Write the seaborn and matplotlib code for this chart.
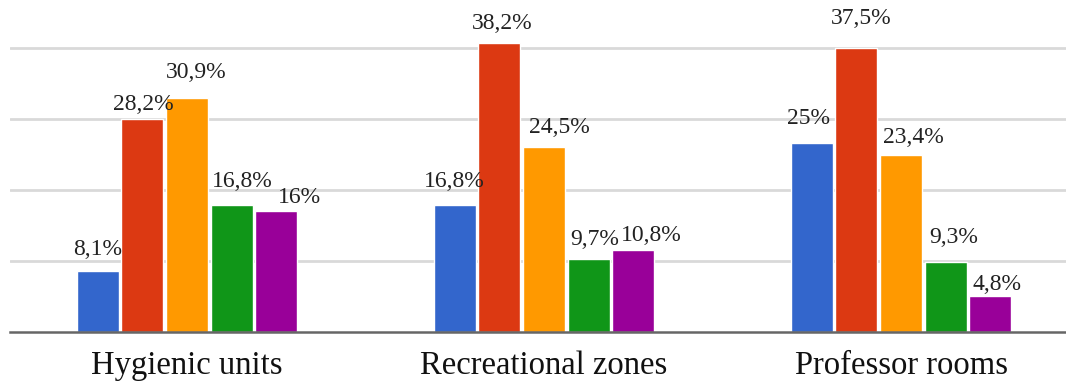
import pandas as pd
import matplotlib
matplotlib.use("Agg")
import matplotlib.pyplot as plt
import seaborn as sns

# données (en %)
categories = ["Hygienic units", "Recreational zones", "Professor rooms"]
series = ["Série 1", "Série 2", "Série 3", "Série 4", "Série 5"]
serie_1 = [8.1, 16.8, 25]
serie_2 = [28.2, 38.2, 37.5]
serie_3 = [30.9, 24.5, 23.4]
serie_4 = [16.8, 9.7, 9.3]
serie_5 = [16, 10.8, 4.8]

couleurs = ["#3366CC", "#DC3912", "#FF9900", "#109618", "#990099"]

rows = []
for nom, vals in zip(series, [serie_1, serie_2, serie_3, serie_4, serie_5]):
    for cat, v in zip(categories, vals):
        rows.append({"categorie": cat, "serie": nom, "valeur": v})
df = pd.DataFrame(rows)

# petits décalages des étiquettes (pixels) : dx, écart au-dessus de la barre
decalages = [
    [(0, 11), (-1, 13), (-3, 14)],
    [(1, 4), (2.5, 9), (5, 19)],
    [(9.5, 15), (15, 9), (12.5, 7)],
    [(11, 13), (6, 9), (8, 14)],
    [(23, 3), (18, 4), (6.5, 1)],
]

sns.set_style("white")
plt.rcParams["font.family"] = ["Liberation Serif", "DejaVu Serif"]

fig = plt.figure(figsize=(10.66, 3.87), dpi=100)
ax = fig.add_axes([10 / 1066, 55 / 387, 1056 / 1066, 332 / 387])

sns.barplot(data=df, x="categorie", y="valeur", hue="serie", palette=couleurs,
            saturation=1, width=0.625, gap=0.06, ax=ax, legend=False)

ax.set_ylim(0, 43.86)
ax.set_xlim(-0.496, 2.462)
ax.set_yticks([9.375, 18.75, 28.125, 37.5])
ax.yaxis.grid(True, color="#d9d9d9", linewidth=2)
ax.set_axisbelow(True)
ax.set_yticklabels([])
ax.tick_params(axis="y", length=0)
ax.tick_params(axis="x", length=0, pad=13, labelsize=23.5, labelcolor="#111111")
ax.set_xlabel("")
ax.set_ylabel("")
for s in ["top", "right", "left"]:
    ax.spines[s].set_visible(False)
ax.spines["bottom"].set_color("#666666")
ax.spines["bottom"].set_linewidth(1.8)

for i, cont in enumerate(ax.containers):
    for j, bar in enumerate(cont):
        v = bar.get_height()
        txt = f"{v:g}".replace(".", ",") + "%"
        dx, dy = decalages[i][j]
        ax.annotate(txt, (bar.get_x() + bar.get_width() / 2, v),
                    xytext=(dx, dy), textcoords="offset pixels",
                    ha="center", va="bottom", fontsize=17, color="#222222")

fig.savefig("out.png", dpi=100)
